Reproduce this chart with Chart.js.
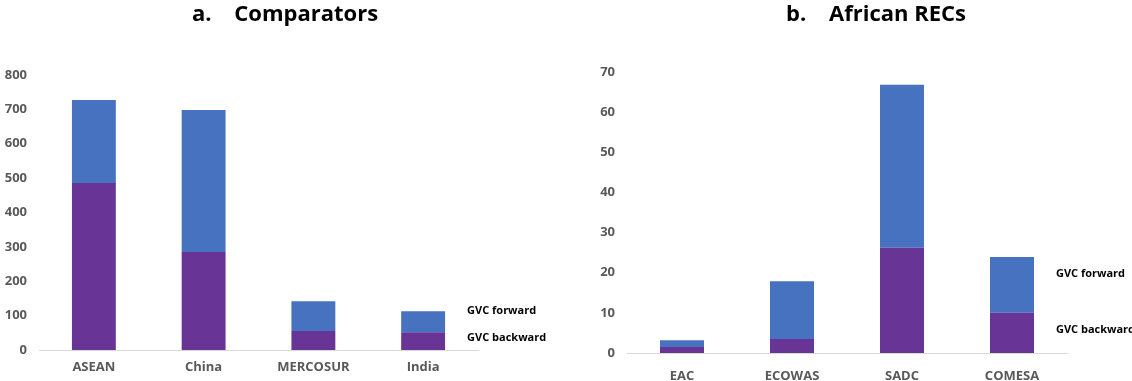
<!DOCTYPE html>
<html>
<head>
<meta charset="utf-8">
<script src="https://cdn.jsdelivr.net/npm/chart.js@4.4.1/dist/chart.umd.min.js"></script>
<style>
  body { margin: 0; background: #fff; }
  canvas { position: absolute; top: 0; }
</style>
</head>
<body>
<canvas id="comparators" width="566" height="381" style="left:0"></canvas>
<canvas id="recs" width="566" height="381" style="left:566px"></canvas>
<script>
// panel a: comparators
const compLabels = ['ASEAN', 'China', 'MERCOSUR', 'India'];
const compBackward = [486, 285, 55, 52];
const compForward = [241, 413, 87, 61];

// panel b: African RECs
const recLabels = ['EAC', 'ECOWAS', 'SADC', 'COMESA'];
const recBackward = [1.5, 3.5, 26.2, 10.0];
const recForward = [1.7, 14.4, 40.6, 13.9];

const PURPLE = '#683596';
const BLUE = '#4672C0';
const TICK_GREY = '#595959';

// draws the panel title and the series names beside the last bar
const annotate = {
    id: 'annotate',
    afterDraw(chart, args, opts) {
        const ctx = chart.ctx;
        ctx.save();
        ctx.fillStyle = '#000';
        ctx.textBaseline = 'middle';
        ctx.textAlign = 'center';
        ctx.font = 'bold 22px "Open Sans"';
        ctx.fillText(opts.title, opts.titleX, 15);

        const last = chart.data.labels.length - 1;
        const back = chart.getDatasetMeta(0).data[last];
        const fwd = chart.getDatasetMeta(1).data[last];
        const x = fwd.x + fwd.width / 2 + 22;
        ctx.textAlign = 'left';
        ctx.font = 'bold 11px "Open Sans"';
        ctx.fillText(chart.data.datasets[1].label, x, (fwd.y + fwd.base) / 2 - 11);
        ctx.fillText(chart.data.datasets[0].label, x, (back.y + back.base) / 2 - 3);
        ctx.restore();
    }
};

function makeChart(id, labels, backward, forward, yMax, step, o) {
    return new Chart(document.getElementById(id).getContext('2d'), {
        type: 'bar',
        data: {
            labels: labels,
            datasets: [
                { label: 'GVC backward', data: backward, backgroundColor: PURPLE },
                { label: 'GVC forward', data: forward, backgroundColor: BLUE },
            ],
        },
        options: {
            responsive: false,
            animation: false,
            categoryPercentage: 1,
            barPercentage: 0.4,
            layout: { padding: { top: o.top, right: o.right, left: 0, bottom: 0 } },
            plugins: {
                legend: { display: false },
                tooltip: { enabled: false },
                annotate: { title: o.title, titleX: o.titleX },
            },
            scales: {
                x: {
                    stacked: true,
                    grid: { display: false, drawTicks: false },
                    border: { display: true, color: '#d9d9d9', width: 1 },
                    ticks: { color: TICK_GREY, font: { family: 'Open Sans', size: 13, weight: 'bold' }, padding: o.xPad },
                    afterFit: (axis) => { axis.height = o.xHeight; },
                },
                y: {
                    stacked: true,
                    min: 0,
                    max: yMax,
                    grid: { display: false, drawTicks: false },
                    border: { display: false },
                    ticks: { stepSize: step, color: TICK_GREY, font: { family: 'Open Sans', size: 13, weight: 'bold' }, padding: 12 },
                    afterFit: (axis) => { axis.width = o.yWidth; },
                },
            },
        },
        plugins: [annotate],
    });
}

makeChart('comparators', compLabels, compBackward, compForward, 800, 100, {
    top: 75, right: 88, xHeight: 31, xPad: 9, yWidth: 39,
    title: 'a.    Comparators', titleX: 285,
});

makeChart('recs', recLabels, recBackward, recForward, 70, 10, {
    top: 72, right: 65, xHeight: 28, xPad: 15, yWidth: 61,
    title: 'b.    African RECs', titleX: 310,
});
</script>
</body>
</html>
